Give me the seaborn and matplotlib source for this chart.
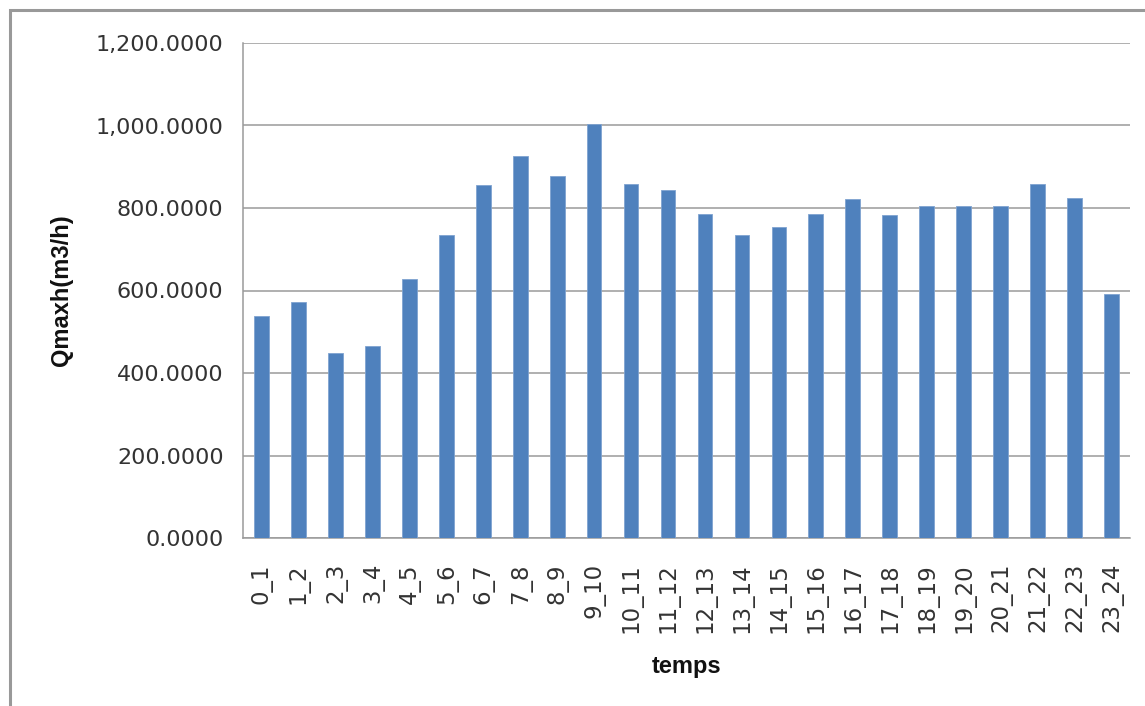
import matplotlib
matplotlib.use("Agg")
import matplotlib.pyplot as plt
import matplotlib.ticker as mticker
from matplotlib.patches import Rectangle
import seaborn as sns
import pandas as pd
import numpy as np

categories = ["0_1", "1_2", "2_3", "3_4", "4_5", "5_6", "6_7", "7_8", "8_9", "9_10",
              "10_11", "11_12", "12_13", "13_14", "14_15", "15_16", "16_17", "17_18",
              "18_19", "19_20", "20_21", "21_22", "22_23", "23_24"]
qmaxh = [538, 573, 448, 466, 628, 734, 855, 926, 877, 1004,
         858, 843, 786, 734, 753, 786, 822, 784, 805, 805, 805, 858, 825, 592]

sns.set_style("white")
plt.rcParams['font.family'] = ['DejaVu Sans']

df = pd.DataFrame({"temps": categories, "Qmaxh": qmaxh})

fig = plt.figure(figsize=(11.45, 7.06), dpi=100)
ax = fig.add_axes([243/1145, 1 - 538/706, (1130-243)/1145, (538-43)/706])

sns.barplot(data=df, x="temps", y="Qmaxh", color="#4F81BD", width=0.4,
            saturation=1, ax=ax, edgecolor="#7FA3D0", linewidth=0.6, zorder=3)

ax.set_xlim(-0.5, len(categories) - 0.5)
ax.set_ylim(0, 1200)
ax.yaxis.set_major_locator(mticker.MultipleLocator(200))
ax.yaxis.set_major_formatter(mticker.FuncFormatter(lambda v, p: f"{v:,.4f}"))
ax.grid(axis="y", color="#9a9a9a", linewidth=1.1, zorder=0)
ax.set_axisbelow(True)

label_color = "#333333"
ax.set_xticks(range(len(categories)))
ax.set_xticklabels(categories, rotation=90, fontsize=16.5, color=label_color)
ax.tick_params(axis="x", which="major", length=0, pad=18)
ax.set_xticks(np.arange(-0.5, len(categories), 1.0), minor=True)
ax.tick_params(axis="x", which="minor", length=8, color="#9a9a9a", width=1.1)
ax.tick_params(axis="y", which="major", length=8, color="#9a9a9a", width=1.1,
               labelsize=16, labelcolor=label_color, pad=6)

for s in ["top", "right"]:
    ax.spines[s].set_visible(False)
for s in ["left", "bottom"]:
    ax.spines[s].set_color("#9a9a9a")
    ax.spines[s].set_linewidth(1.1)

lab_font = ["Liberation Sans", "DejaVu Sans"]
ax.set_ylabel("Qmaxh(m3/h)", fontsize=17, fontweight="bold", family=lab_font, color="#111111")
ax.set_xlabel("temps", fontsize=17, fontweight="bold", family=lab_font, color="#111111")
ax.yaxis.set_label_coords(-0.192, 0.5)
ax.xaxis.set_label_coords(0.5, -0.236)

# outer chart border (right and bottom edges fall outside the image)
fig.patches.append(Rectangle((10/1145, -0.05), 1.1, 1.05 - 10/706,
                             transform=fig.transFigure, fill=False,
                             edgecolor="#999999", linewidth=2.2))

fig.savefig("out.png", dpi=100, facecolor="white")
